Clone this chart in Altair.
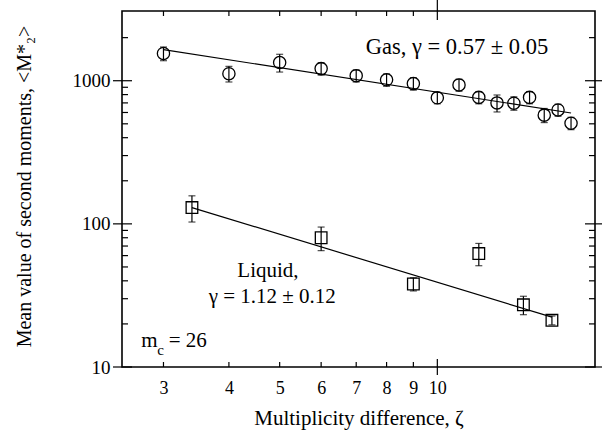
import altair as alt
import pandas as pd

# Gas branch: multiplicity difference, mean second moment, error
gas_zeta = [3, 4, 5, 6, 7, 8, 9, 10, 11, 12, 13, 14, 15, 16, 17, 18]
gas_m2 = [1550, 1120, 1340, 1215, 1085, 1015, 955, 760, 935, 765, 700, 697, 765, 575, 625, 505]
gas_err = [170, 140, 190, 120, 105, 100, 95, 70, 90, 75, 95, 75, 75, 65, 60, 50]

# Liquid branch
liq_zeta = [3.4, 6, 9, 12, 14.6, 16.55]
liq_m2 = [130, 80, 38, 62, 27.2, 21.2]
liq_err = [27, 15, 4, 11, 4, 1.5]

# Power-law fits  <M2*> ~ zeta^-gamma (end points of each fitted segment)
gas_fit_zeta = [3, 18]
gas_fit_m2 = [1650, 595]
liq_fit_zeta = [3.4, 16.55]
liq_fit_m2 = [130, 22.3]

x_labels = [3, 4, 5, 6, 7, 8, 9, 10]
x_minor = [3, 4, 5, 6, 7, 8, 9]
x_major = [10]
y_labels = [10, 100, 1000]
y_minor = [20, 30, 40, 50, 60, 70, 80, 90, 200, 300, 400, 500, 600, 700, 800, 900, 2000]
y_major = [10, 100, 1000]

SERIF = "Liberation Serif"
W, H = 473, 356

xscale = alt.Scale(type="log", domain=[2.5, 20], nice=False)
yscale = alt.Scale(type="log", domain=[10, 3070], nice=False)

# Axes carry only labels and titles; the frame is the view stroke
x_axis = alt.Axis(
    values=x_labels, format="d", ticks=False, domain=False, grid=False,
    labelFont=SERIF, labelFontSize=18, labelColor="black", labelPadding=12,
    title="Multiplicity difference, ζ", titleFont=SERIF, titleFontSize=21,
    titleFontWeight="normal", titleColor="black", titleY=57,
    titleBaseline="alphabetic")
y_axis = alt.Axis(
    values=y_labels, format="d", ticks=False, domain=False, grid=False,
    labelFont=SERIF, labelFontSize=19, labelColor="black", labelPadding=12,
    title="Mean value of second moments, <M*₂>", titleFont=SERIF,
    titleFontSize=20, titleFontWeight="normal", titleColor="black",
    titleX=-98, titleY=175, titleBaseline="middle")


def series(zeta, m2, err):
    return pd.DataFrame({
        "zeta": zeta,
        "m2": m2,
        "lo": [v - e for v, e in zip(m2, err)],
        "hi": [v + e for v, e in zip(m2, err)],
    })


gas = series(gas_zeta, gas_m2, gas_err)
liq = series(liq_zeta, liq_m2, liq_err)
both = pd.concat([gas, liq], ignore_index=True)
caps = pd.concat([
    both[["zeta", "lo"]].rename(columns={"lo": "m2"}),
    both[["zeta", "hi"]].rename(columns={"hi": "m2"}),
], ignore_index=True)


def X(f):
    return alt.X(f, type="quantitative", scale=xscale, axis=x_axis, title="Multiplicity difference, ζ")


def Y(f):
    return alt.Y(f, type="quantitative", scale=yscale, axis=y_axis, title="Mean value of second moments, <M*₂>")


# Inward tick marks on all four sides; decade ticks cross the frame
def xticks(vals, y1, y2):
    return alt.Chart(pd.DataFrame({"zeta": vals})).mark_rule(color="black", strokeWidth=1.2).encode(
        x=X("zeta"), y=alt.value(y1), y2=alt.value(y2))


def yticks(vals, x1, x2):
    return alt.Chart(pd.DataFrame({"m2": vals})).mark_rule(color="black", strokeWidth=1.2).encode(
        y=Y("m2"), x=alt.value(x1), x2=alt.value(x2))


ticks = [
    xticks(x_minor, H, H - 5), xticks(x_minor, 0, 5),
    xticks(x_major, H + 8, H - 8), xticks(x_major, -11, 9),
    yticks(y_minor, 0, 6), yticks(y_minor, W, W - 6),
    yticks(y_major, -9, 10), yticks(y_major, W + 9, W - 10),
]

bars = alt.Chart(both).mark_rule(color="black", strokeWidth=1.2).encode(
    x=X("zeta"), y=Y("lo"), y2="hi")
cap_marks = alt.Chart(caps).mark_tick(
    orient="horizontal", color="black", size=7, thickness=1.2).encode(x=X("zeta"), y=Y("m2"))

gas_line = alt.Chart(pd.DataFrame({"zeta": gas_fit_zeta, "m2": gas_fit_m2})).mark_line(
    color="black", strokeWidth=1.2).encode(x=X("zeta"), y=Y("m2"))
liq_line = alt.Chart(pd.DataFrame({"zeta": liq_fit_zeta, "m2": liq_fit_m2})).mark_line(
    color="black", strokeWidth=1.2).encode(x=X("zeta"), y=Y("m2"))

gas_pts = alt.Chart(gas).mark_point(
    shape="circle", size=150, filled=False, color="black", strokeWidth=1.3, opacity=1).encode(
    x=X("zeta"), y=Y("m2"))
liq_pts = alt.Chart(liq).mark_point(
    shape="square", size=135, filled=False, color="black", strokeWidth=1.3, opacity=1).encode(
    x=X("zeta"), y=Y("m2"))


def label(text, zeta, m2, size=21, align="left"):
    return alt.Chart(pd.DataFrame({"zeta": [zeta], "m2": [m2], "s": [text]})).mark_text(
        font=SERIF, fontSize=size, align=align, baseline="middle", color="black").encode(
        x=X("zeta"), y=Y("m2"), text="s:N")


texts = [
    label("Gas, γ = 0.57 ± 0.05", 7.3, 1720, size=22.5),
    label("Liquid,", 4.75, 46.5, align="center"),
    label("γ = 1.12 ± 0.12", 4.84, 31.0, align="center"),
    label("m", 2.72, 15.2),
    label("c", 2.92, 13.2, size=15),
    label("= 26", 3.07, 15.2),
]

chart = alt.layer(*ticks, bars, cap_marks, gas_line, liq_line, gas_pts, liq_pts, *texts).properties(
    width=W, height=H,
    background="white",
    autosize=alt.AutoSizeParams(type="none"),
    padding={"left": 122, "top": 11, "right": 7, "bottom": 67},
).configure_view(stroke="black", strokeWidth=1.6)

chart.save("out.html", embed_options={"renderer": "svg", "actions": False})
